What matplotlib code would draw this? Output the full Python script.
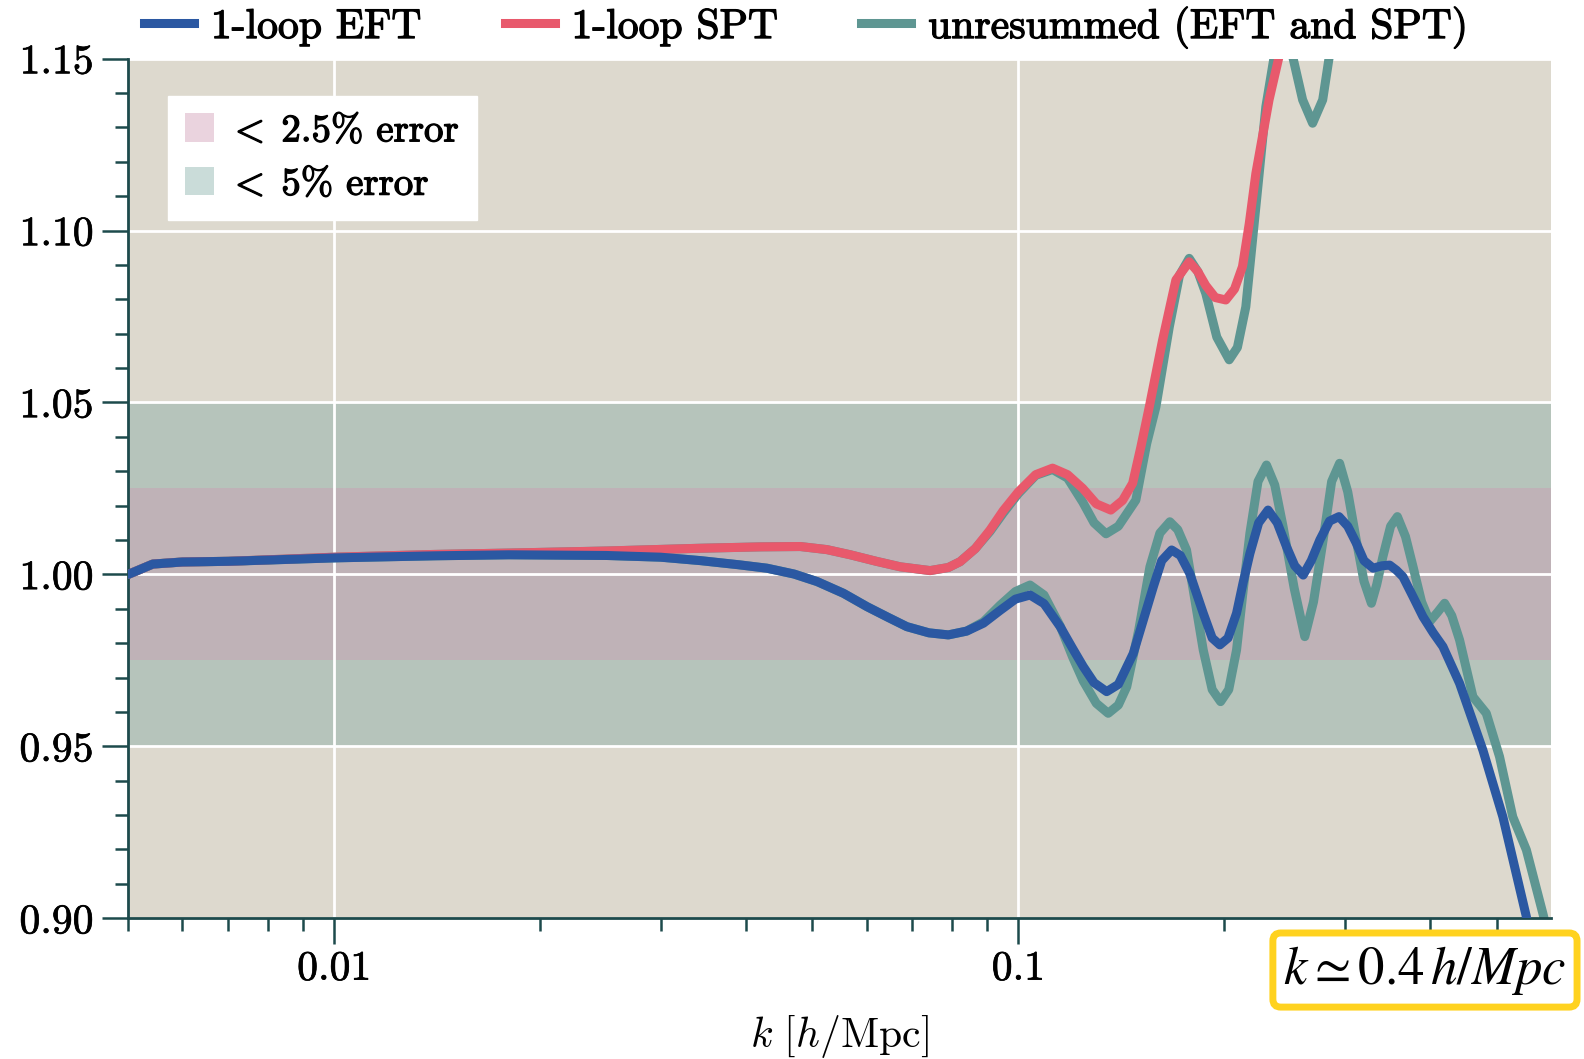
import numpy as np
import matplotlib
matplotlib.use('Agg')
import matplotlib.pyplot as plt
import matplotlib.patheffects as pe
from matplotlib.lines import Line2D
from matplotlib.patches import Patch
from matplotlib.ticker import FixedLocator, FuncFormatter, NullFormatter

# ---- Datos ---- #
k_eft = [0.00500, 0.00543, 0.00600, 0.00700, 0.0100, 0.0140, 0.0180, 0.0250,
         0.0300, 0.0343, 0.0390, 0.0429, 0.0470, 0.0508, 0.0555, 0.0601,
         0.0645, 0.0687, 0.0740, 0.0790, 0.0840, 0.0889, 0.0940, 0.0990,
         0.1040, 0.1090, 0.1151, 0.1200, 0.1244, 0.1290, 0.1346, 0.1400,
         0.1472, 0.1575, 0.1620, 0.1675, 0.1725, 0.1780, 0.1863, 0.1920,
         0.1970, 0.2025, 0.2084, 0.2130, 0.2180, 0.2245, 0.2317, 0.2390,
         0.2465, 0.2535, 0.2608, 0.2680, 0.2758, 0.2850, 0.2942, 0.3030,
         0.3118, 0.3200, 0.3300, 0.3400, 0.3489, 0.3570, 0.3649, 0.3775,
         0.3903, 0.4040, 0.4174, 0.4415, 0.4775, 0.5107, 0.5527, 0.5560]
p_eft = [1.0000, 1.0030, 1.0036, 1.0038, 1.0048, 1.0054, 1.0057, 1.0055,
         1.0050, 1.0040, 1.0028, 1.0018, 1.0001, 0.9979, 0.9945, 0.9906,
         0.9875, 0.9848, 0.9830, 0.9824, 0.9835, 0.9858, 0.9895, 0.9928,
         0.9940, 0.9915, 0.9848, 0.9785, 0.9732, 0.9685, 0.9659, 0.9680,
         0.9770, 0.9964, 1.0040, 1.0071, 1.0055, 1.0003, 0.9887, 0.9815,
         0.9795, 0.9815, 0.9887, 0.9975, 1.0061, 1.0150, 1.0187, 1.0150,
         1.0081, 1.0025, 0.9998, 1.0040, 1.0100, 1.0155, 1.0168, 1.0140,
         1.0091, 1.0040, 1.0018, 1.0025, 1.0027, 1.0012, 0.9993, 0.9935,
         0.9877, 0.9830, 0.9790, 0.9683, 0.9489, 0.9295, 0.9005, 0.8980]

k_eft_nr = [0.00500, 0.00543, 0.00600, 0.00700, 0.0100, 0.0140, 0.0180, 0.0250,
            0.0300, 0.0343, 0.0390, 0.0429, 0.0470, 0.0508, 0.0555, 0.0601,
            0.0645, 0.0687, 0.0740, 0.0790, 0.0840, 0.0889, 0.0940, 0.0990,
            0.1040, 0.1090, 0.1151, 0.1200, 0.1244, 0.1300, 0.1353, 0.1400,
            0.1440, 0.1500, 0.1557, 0.1610, 0.1665, 0.1710, 0.1761, 0.1810,
            0.1863, 0.1920, 0.1975, 0.2030, 0.2084, 0.2130, 0.2180, 0.2240,
            0.2305, 0.2370, 0.2437, 0.2530, 0.2622, 0.2700, 0.2789, 0.2870,
            0.2948, 0.3030, 0.3118, 0.3200, 0.3281, 0.3340, 0.3411, 0.3500,
            0.3581, 0.3680, 0.3775, 0.3885, 0.3993, 0.4100, 0.4198, 0.4300,
            0.4415, 0.4618, 0.4830, 0.5050, 0.5280, 0.5527, 0.5843, 0.5900]
p_eft_nr = [1.0000, 1.0030, 1.0036, 1.0038, 1.0048, 1.0054, 1.0057, 1.0055,
            1.0050, 1.0040, 1.0028, 1.0018, 1.0001, 0.9979, 0.9945, 0.9906,
            0.9875, 0.9848, 0.9830, 0.9824, 0.9835, 0.9862, 0.9910, 0.9950,
            0.9969, 0.9940, 0.9850, 0.9760, 0.9690, 0.9625, 0.9596, 0.9620,
            0.9673, 0.9840, 1.0022, 1.0120, 1.0153, 1.0130, 1.0071, 0.9930,
            0.9780, 0.9665, 0.9630, 0.9665, 0.9780, 0.9950, 1.0120, 1.0270,
            1.0318, 1.0260, 1.0139, 0.9960, 0.9819, 0.9920, 1.0100, 1.0270,
            1.0323, 1.0240, 1.0100, 0.9980, 0.9916, 0.9970, 1.0052, 1.0140,
            1.0168, 1.0110, 1.0022, 0.9920, 0.9863, 0.9890, 0.9916, 0.9880,
            0.9809, 0.9644, 0.9596, 0.9470, 0.9295, 0.9199, 0.9014, 0.8980]

k_spt = [0.00500, 0.00543, 0.00600, 0.00700, 0.0100, 0.0140, 0.0180, 0.0250,
         0.0343, 0.0420, 0.0480, 0.0525, 0.0568, 0.0620, 0.0672, 0.0743,
         0.0790, 0.0822, 0.0865, 0.0909, 0.0950, 0.1000, 0.1060, 0.1122,
         0.1180, 0.1242, 0.1300, 0.1365, 0.1420, 0.1469, 0.1510, 0.1554,
         0.1625, 0.1699, 0.1777, 0.1830, 0.1879, 0.1940, 0.2010, 0.2070,
         0.2126, 0.2175, 0.2224, 0.2325, 0.2404, 0.2480, 0.2550, 0.2620,
         0.2700, 0.2800]
p_spt = [1.0000, 1.0030, 1.0036, 1.0038, 1.0050, 1.0058, 1.0062, 1.0068,
         1.0076, 1.0080, 1.0081, 1.0072, 1.0057, 1.0038, 1.0022, 1.0011,
         1.0020, 1.0037, 1.0075, 1.0129, 1.0185, 1.0240, 1.0290, 1.0309,
         1.0290, 1.0250, 1.0205, 1.0187, 1.0215, 1.0265, 1.0370, 1.0488,
         1.0682, 1.0856, 1.0909, 1.0880, 1.0840, 1.0805, 1.0798, 1.0830,
         1.0895, 1.1020, 1.1166, 1.1380, 1.1505, 1.1650, 1.1600, 1.1520,
         1.1650, 1.1900]

k_spt_nr = [0.00500, 0.00543, 0.00600, 0.00700, 0.0100, 0.0140, 0.0180, 0.0250,
            0.0343, 0.0420, 0.0480, 0.0525, 0.0568, 0.0620, 0.0672, 0.0743,
            0.0790, 0.0822, 0.0865, 0.0909, 0.0950, 0.1000, 0.1060, 0.1122,
            0.1180, 0.1242, 0.1290, 0.1343, 0.1400, 0.1485, 0.1540, 0.1589,
            0.1662, 0.1720, 0.1777, 0.1830, 0.1879, 0.1950, 0.2033, 0.2090,
            0.2150, 0.2224, 0.2300, 0.2365, 0.2440, 0.2518, 0.2603, 0.2692,
            0.2785, 0.2847, 0.2920, 0.3000]
p_spt_nr = [1.0000, 1.0030, 1.0036, 1.0038, 1.0050, 1.0058, 1.0062, 1.0068,
            1.0076, 1.0080, 1.0081, 1.0072, 1.0057, 1.0038, 1.0022, 1.0011,
            1.0020, 1.0037, 1.0075, 1.0125, 1.0178, 1.0235, 1.0288, 1.0305,
            1.0280, 1.0210, 1.0150, 1.0118, 1.0140, 1.0216, 1.0380, 1.0488,
            1.0720, 1.0870, 1.0919, 1.0880, 1.0817, 1.0690, 1.0624, 1.0660,
            1.0778, 1.1069, 1.1360, 1.1505, 1.1650, 1.1505, 1.1380, 1.1312,
            1.1380, 1.1505, 1.1700, 1.1900]

y_ticks = [0.90, 0.95, 1.00, 1.05, 1.10, 1.15]
x_ticks = [0.01, 0.1]
x_tick_labels = ['0.01', '0.1']
band_5 = (0.95, 1.05)
band_25 = (0.975, 1.025)

# ---- Estilo ---- #
plt.rcParams['font.family'] = 'serif'
plt.rcParams['font.serif'] = ['cmr10']
plt.rcParams['mathtext.fontset'] = 'cm'
plt.rcParams['axes.formatter.use_mathtext'] = True

c_eft = '#2b58a2'
c_spt = '#e8596c'
c_nr = '#5e9692'
c_axis = '#1d4a4c'
lw = 6.5
thick = [pe.withStroke(linewidth=0.9, foreground='black')]

fig = plt.figure(figsize=(15.84, 10.59), dpi=100)
ax = fig.add_axes([0.081, 0.1329, 0.898, 0.8118])

ax.set_facecolor('#ddd9ce')
ax.axhspan(*band_5, color='#b6c4bb', lw=0, zorder=0.1)
ax.axhspan(*band_25, color='#bfb2b7', lw=0, zorder=0.15)

# curvas
kw = dict(lw=lw, solid_joinstyle='round', solid_capstyle='round')
ax.plot(k_eft_nr, p_eft_nr, color=c_nr, zorder=2, **kw)
ax.plot(k_spt_nr, p_spt_nr, color=c_nr, zorder=2, **kw)
ax.plot(k_spt, p_spt, color=c_spt, zorder=3, **kw)
ax.plot(k_eft, p_eft, color=c_eft, zorder=4, **kw)

ax.set_xscale('log')
ax.set_xlim(0.005, 0.6)
ax.set_ylim(0.90, 1.15)

# ejes y ticks
ax.set_axisbelow(True)
ax.grid(True, which='major', color='white', lw=2)
for s in ['top', 'right']:
    ax.spines[s].set_visible(False)
for s in ['left', 'bottom']:
    ax.spines[s].set_color(c_axis)
    ax.spines[s].set_linewidth(2)

ax.yaxis.set_major_locator(FixedLocator(y_ticks))
ax.yaxis.set_minor_locator(FixedLocator(np.arange(0.90, 1.151, 0.01)))
ax.yaxis.set_major_formatter(FuncFormatter(lambda v, p: '%.2f' % v))
ax.xaxis.set_major_locator(FixedLocator(x_ticks))
ax.xaxis.set_major_formatter(FuncFormatter(lambda v, p: x_tick_labels[x_ticks.index(v)] if v in x_ticks else ''))
minors = [m * 10.0**e for e in (-3, -2, -1) for m in range(2, 10)]
ax.xaxis.set_minor_locator(FixedLocator([m for m in minors if 0.005 <= m <= 0.6]))
ax.xaxis.set_minor_formatter(NullFormatter())

ax.tick_params(which='major', length=19, width=1.8, color=c_axis, labelsize=30, pad=6)
ax.tick_params(which='minor', length=9.5, width=1.8, color=c_axis)
ax.tick_params(axis='x', which='major', pad=4)
for t in ax.get_xticklabels() + ax.get_yticklabels():
    t.set_path_effects([pe.withStroke(linewidth=0.5, foreground='black')])

ax.set_xlabel(r'$k\ [h/\mathrm{Mpc}]$', fontsize=30)
ax.xaxis.set_label_coords(0.5, -0.11)

# leyenda superior
handles = [Line2D([], [], color=c_eft, lw=lw),
           Line2D([], [], color=c_spt, lw=lw),
           Line2D([], [], color=c_nr, lw=lw)]
labels = ['1-loop EFT', '1-loop SPT', 'unresummed (EFT and SPT)']
top = fig.legend(handles, labels, loc='center', bbox_to_anchor=(0.509, 0.974), ncol=3,
                 frameon=False, fontsize=30, handlelength=1.2, handletextpad=0.4,
                 columnspacing=2.0)
for t in top.get_texts():
    t.set_path_effects(thick)

# leyenda de bandas
patches = [Patch(facecolor='#ead3de', edgecolor='none'),
           Patch(facecolor='#cadcd9', edgecolor='none')]
leg = ax.legend(patches, [r'$<\;$2.5% error', r'$<\;$5% error'], loc='upper left',
                bbox_to_anchor=(0.0277, 0.9565), fontsize=28, frameon=True,
                fancybox=False, framealpha=1, edgecolor='white', facecolor='white',
                handlelength=0.75, handleheight=0.75, handletextpad=0.35,
                labelspacing=0.45, borderpad=0.45, borderaxespad=0)
leg.set_zorder(5)
for t in leg.get_texts():
    t.set_path_effects(thick)

# recuadro amarillo
fig.text(0.8996, 0.084, r'$k\simeq0.4\,h/Mpc$', fontsize=38, math_fontfamily='stix',
         ha='center', va='center',
         bbox=dict(boxstyle='round,pad=0.2,rounding_size=0.15', fc='white',
                   ec='#ffd21f', lw=5))

fig.savefig('out.png', dpi=100)
